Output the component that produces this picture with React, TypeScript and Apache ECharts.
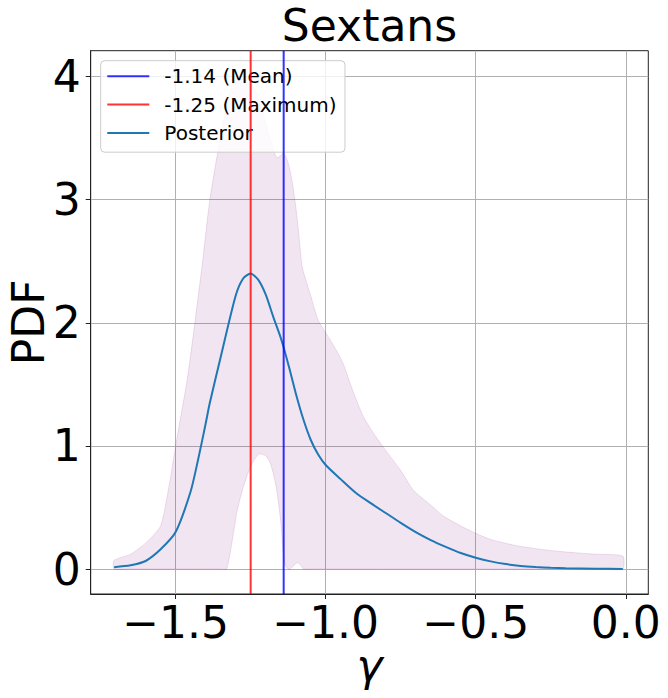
import React, { useEffect, useRef } from "react";
import * as echarts from "echarts";

const FONT = "DejaVu Sans";

// Axis limits (from the reference)
const xMinAxis = -1.783;
const xMaxAxis = 0.075;
const yMinAxis = -0.203;
const yMaxAxis = 4.21;
const xTicks = [-1.5, -1.0, -0.5, 0.0];
const yTicks = [0, 1, 2, 3, 4];

const meanValue = -1.14;
const maxValue = -1.25;

// Posterior PDF curve
const posteriorX = [
  -1.705, -1.65, -1.6, -1.55, -1.5, -1.45, -1.425, -1.4, -1.386, -1.35, -1.3, -1.275, -1.25,
  -1.225, -1.2, -1.175, -1.15, -1.14, -1.12, -1.1, -1.075, -1.05, -1.025, -1.0, -0.95, -0.9,
  -0.85, -0.8, -0.75, -0.7, -0.65, -0.6, -0.55, -0.5, -0.45, -0.4, -0.35, -0.3, -0.25, -0.2,
  -0.1, -0.01,
];
const posteriorY = [
  0.015, 0.03, 0.065, 0.16, 0.3, 0.63, 0.89, 1.18, 1.35, 1.72, 2.22, 2.36, 2.4,
  2.35, 2.23, 2.05, 1.88, 1.8, 1.62, 1.43, 1.22, 1.05, 0.93, 0.845, 0.73, 0.62,
  0.535, 0.455, 0.375, 0.3, 0.235, 0.18, 0.13, 0.092, 0.062, 0.04, 0.025, 0.016, 0.01, 0.006,
  0.002, 0.001,
];

// Credible band
const bandX = [
  -1.705, -1.65, -1.6, -1.55, -1.52, -1.5, -1.46, -1.436, -1.41, -1.386, -1.35, -1.33, -1.31,
  -1.297, -1.28, -1.263, -1.25, -1.24, -1.222, -1.2, -1.186, -1.175, -1.163, -1.149, -1.142,
  -1.135, -1.125, -1.119, -1.11, -1.1, -1.092, -1.08, -1.075, -1.05, -1.025, -1.0, -0.97,
  -0.942, -0.91, -0.875, -0.84, -0.808, -0.75, -0.708, -0.65, -0.608, -0.55, -0.5, -0.45,
  -0.375, -0.3, -0.208, -0.1, -0.01,
];
const bandUpper = [
  0.07, 0.12, 0.21, 0.35, 0.7, 1.0, 1.56, 2.0, 2.5, 3.0, 3.52, 3.76, 3.95,
  3.99, 4.02, 4.0, 3.95, 3.91, 3.8, 3.62, 3.5, 3.42, 3.34, 3.36, 3.38,
  3.36, 3.3, 3.24, 3.12, 2.95, 2.78, 2.48, 2.42, 2.22, 2.02, 1.92, 1.8,
  1.67, 1.45, 1.24, 1.1, 0.99, 0.8, 0.64, 0.52, 0.43, 0.35, 0.29, 0.24,
  0.195, 0.165, 0.14, 0.12, 0.105,
];
const bandLower = [
  0, 0, 0, 0, 0, 0, 0, 0, 0, 0, 0, 0, 0.25,
  0.45, 0.62, 0.75, 0.83, 0.88, 0.935, 0.92, 0.87, 0.78, 0.64, 0.37, 0.15,
  0.03, 0, 0, 0.02, 0.045, 0.05, 0.02, 0, 0, 0, 0, 0,
  0, 0, 0, 0, 0, 0, 0, 0, 0, 0, 0, 0,
  0, 0, 0, 0, 0,
];

const meanLabel = `${meanValue.toFixed(2)} (Mean)`;
const maxLabel = `${maxValue.toFixed(2)} (Maximum)`;

function fmtX(v: number): string {
  const s = Math.abs(v).toFixed(1);
  return v < 0 ? "\u2212" + s : s;
}

export default function App() {
  const ref = useRef<HTMLDivElement>(null);
  useEffect(() => {
    if (!ref.current) return;
    const chart = echarts.init(ref.current, null, { renderer: "svg" });
    const option: any = {
      animation: false,
      backgroundColor: "#ffffff",
      title: {
        text: "Sextans",
        left: 369.5,
        top: 3,
        textAlign: "center",
        padding: 0,
        textStyle: { fontSize: 44, fontWeight: "normal", fontFamily: FONT, color: "#000" },
      },
      legend: {
        data: [meanLabel, maxLabel, "Posterior"],
        orient: "vertical",
        left: 100.7,
        top: 60.7,
        icon: "rect",
        itemWidth: 42,
        itemHeight: 2,
        itemGap: 8.3,
        padding: [5.6, 8.4, 9.3, 6.6],
        backgroundColor: "rgba(255,255,255,0.8)",
        borderColor: "#cccccc",
        borderWidth: 1,
        borderRadius: 4,
        selectedMode: false,
        textStyle: {
          fontSize: 20,
          fontFamily: FONT,
          color: "#000",
          lineHeight: 20,
          padding: [0, 0, 0, 10],
        },
      },
      grid: {
        left: 90.7,
        right: 19.7,
        top: 50.7,
        bottom: 104,
        containLabel: false,
        outerBoundsMode: "none",
        show: true,
        borderColor: "#222",
        borderWidth: 1,
        backgroundColor: "transparent",
      },
      xAxis: {
        type: "value",
        min: xMinAxis,
        max: xMaxAxis,
        name: "\u03b3",
        nameLocation: "middle",
        nameGap: 49,
        nameMoveOverlap: false,
        nameTextStyle: { fontSize: 44, fontStyle: "italic", fontFamily: FONT, color: "#000", lineHeight: 44 },
        axisLine: { show: true, onZero: false, lineStyle: { color: "#222", width: 1 } },
        axisTick: { show: true, inside: false, length: 5, customValues: xTicks, lineStyle: { color: "#222" } },
        axisLabel: {
          customValues: xTicks,
          formatter: (v: number) => fmtX(v),
          fontSize: 44,
          lineHeight: 40,
          fontFamily: FONT,
          color: "#000",
          margin: 8,
        },
        splitLine: { show: true, lineStyle: { color: "#b0b0b0", width: 1 } },
      },
      yAxis: {
        type: "value",
        min: yMinAxis,
        max: yMaxAxis,
        name: "PDF",
        nameLocation: "middle",
        nameGap: 40,
        nameMoveOverlap: false,
        nameTextStyle: { fontSize: 44, fontFamily: FONT, color: "#000" },
        axisLine: { show: true, onZero: false, lineStyle: { color: "#222", width: 1 } },
        axisTick: { show: true, inside: false, length: 5, customValues: yTicks, lineStyle: { color: "#222" } },
        axisLabel: {
          customValues: yTicks,
          formatter: (v: number) => String(v),
          fontSize: 44,
          fontFamily: FONT,
          color: "#000",
          margin: 10,
        },
        splitLine: { show: true, lineStyle: { color: "#b0b0b0", width: 1 } },
      },
      series: [
        {
          type: "custom",
          name: "band",
          silent: true,
          z: 1,
          data: bandX.map((x, i) => [x, bandLower[i], bandUpper[i]]),
          encode: { x: 0, y: [1, 2] },
          renderItem: (params: any, api: any) => {
            if (params.dataIndex !== 0) return null;
            const pts: number[][] = [];
            for (let i = 0; i < bandX.length; i++) pts.push(api.coord([bandX[i], bandUpper[i]]));
            for (let i = bandX.length - 1; i >= 0; i--) pts.push(api.coord([bandX[i], bandLower[i]]));
            return {
              type: "polygon",
              shape: { points: pts, smooth: 0.2 },
              style: { fill: "rgba(128,0,128,0.1)", stroke: "rgba(128,0,128,0.12)", lineWidth: 1 },
            };
          },
        },
        {
          type: "line",
          name: meanLabel,
          data: [[meanValue, yMinAxis], [meanValue, yMaxAxis]],
          color: "rgba(0,0,255,0.8)",
          symbol: "none",
          lineStyle: { color: "rgba(0,0,255,0.8)", width: 2 },
          z: 4,
        },
        {
          type: "line",
          name: maxLabel,
          data: [[maxValue, yMinAxis], [maxValue, yMaxAxis]],
          color: "rgba(255,0,0,0.8)",
          symbol: "none",
          lineStyle: { color: "rgba(255,0,0,0.8)", width: 2 },
          z: 4,
        },
        {
          type: "line",
          name: "Posterior",
          data: posteriorX.map((x, i) => [x, posteriorY[i]]),
          color: "#1f77b4",
          symbol: "none",
          smooth: 0.25,
          lineStyle: { color: "#1f77b4", width: 2 },
          z: 3,
        },
      ],
    };
    chart.setOption(option);
    return () => chart.dispose();
  }, []);
  return (
    <div
      ref={ref}
      style={{ position: "fixed", left: 0, top: 0, width: 668, height: 698, background: "#fff" }}
    />
  );
}
